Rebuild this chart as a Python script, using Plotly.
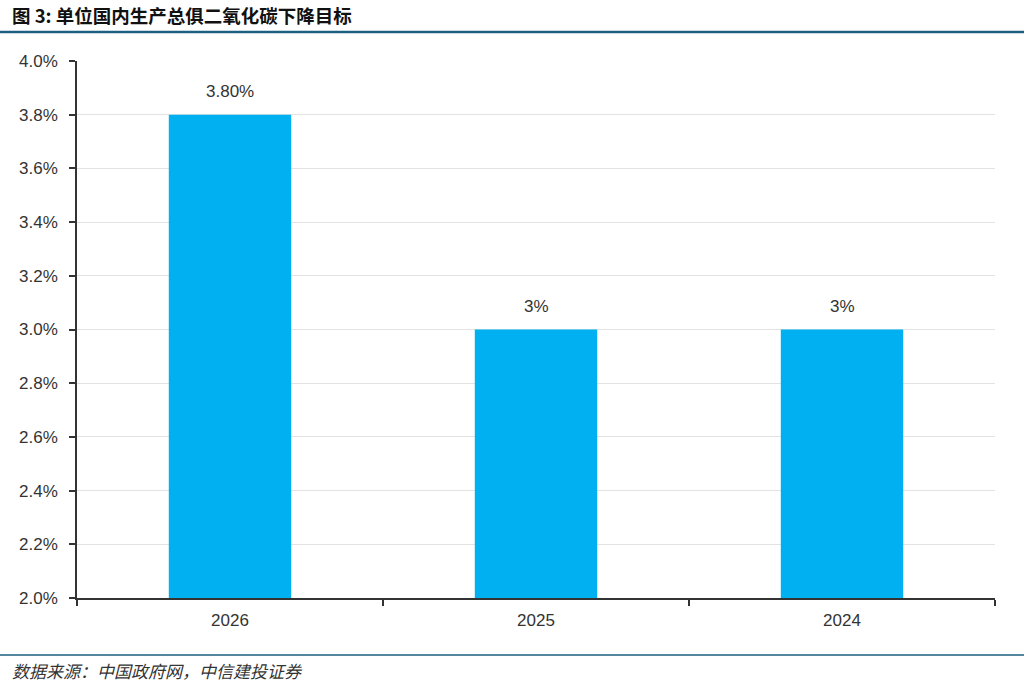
import plotly.graph_objects as go

years = ["2026", "2025", "2024"]
targets = [0.038, 0.030, 0.030]
value_labels = ["3.80%", "3%", "3%"]

title_text = "图 3: 单位国内生产总俱二氧化碳下降目标"
source_text = "数据来源：中国政府网，中信建投证券"

W, H = 1024, 686
ml, mr, mt, mb = 77, 29, 61, 88
pw, ph = W - ml - mr, H - mt - mb

def px_x(x):
    return (x - ml) / pw

def px_y(y):
    return (mt + ph - y) / ph

fig = go.Figure()
fig.add_trace(go.Bar(
    x=years, y=targets, marker=dict(color="#00B0F0", line=dict(width=0)),
    hoverinfo="skip",
))

for i, (v, lab) in enumerate(zip(targets, value_labels)):
    fig.add_annotation(x=i, y=v, text=lab, showarrow=False, yanchor="bottom",
                       yshift=12, font=dict(family="Liberation Sans, Arial", size=17, color="#333333"))

fig.add_annotation(xref="paper", yref="paper", x=px_x(10), y=px_y(15), text="<b>" + title_text + "</b>",
                   showarrow=False, xanchor="left", yanchor="middle",
                   font=dict(family="Noto Sans CJK SC", size=18.5, color="#111111"))
fig.add_annotation(xref="paper", yref="paper", x=px_x(10), y=px_y(670), text="<i>" + source_text + "</i>",
                   showarrow=False, xanchor="left", yanchor="middle",
                   font=dict(family="Noto Sans CJK SC", size=17, color="#333333"))

fig.add_shape(type="line", xref="paper", yref="paper", x0=px_x(0), x1=px_x(W), y0=px_y(32), y1=px_y(32),
              line=dict(color="#1d5f80", width=2.5))
fig.add_shape(type="line", xref="paper", yref="paper", x0=px_x(0), x1=px_x(W), y0=px_y(655), y1=px_y(655),
              line=dict(color="#1d5f80", width=1.5))

fig.update_layout(
    width=W, height=H,
    margin=dict(l=ml, r=mr, t=mt, b=mb),
    plot_bgcolor="white", paper_bgcolor="white",
    bargap=0.6, showlegend=False,
    font=dict(family="Liberation Sans, Arial", size=17, color="#333333"),
)
fig.update_xaxes(
    type="category", showline=True, linecolor="#333333", linewidth=1.5,
    ticks="outside", tickson="boundaries", ticklen=6, tickcolor="#333333", tickwidth=1.5,
    showgrid=False, tickfont=dict(size=17, color="#333333"), ticklabelstandoff=6,
)
fig.update_yaxes(
    range=[0.02, 0.04], dtick=0.002, tick0=0.02, tickformat=".1%",
    showline=True, linecolor="#333333", linewidth=1.5,
    ticks="outside", ticklen=6, tickcolor="#333333", tickwidth=1.5,
    showgrid=True, gridcolor="#e3e3e3", gridwidth=1, zeroline=False,
    tickfont=dict(size=17, color="#333333"), ticklabelstandoff=8,
)

fig.write_html("out.html", config={"displayModeBar": False},
               post_script="document.body.style.margin='0';document.body.style.overflow='hidden';")
